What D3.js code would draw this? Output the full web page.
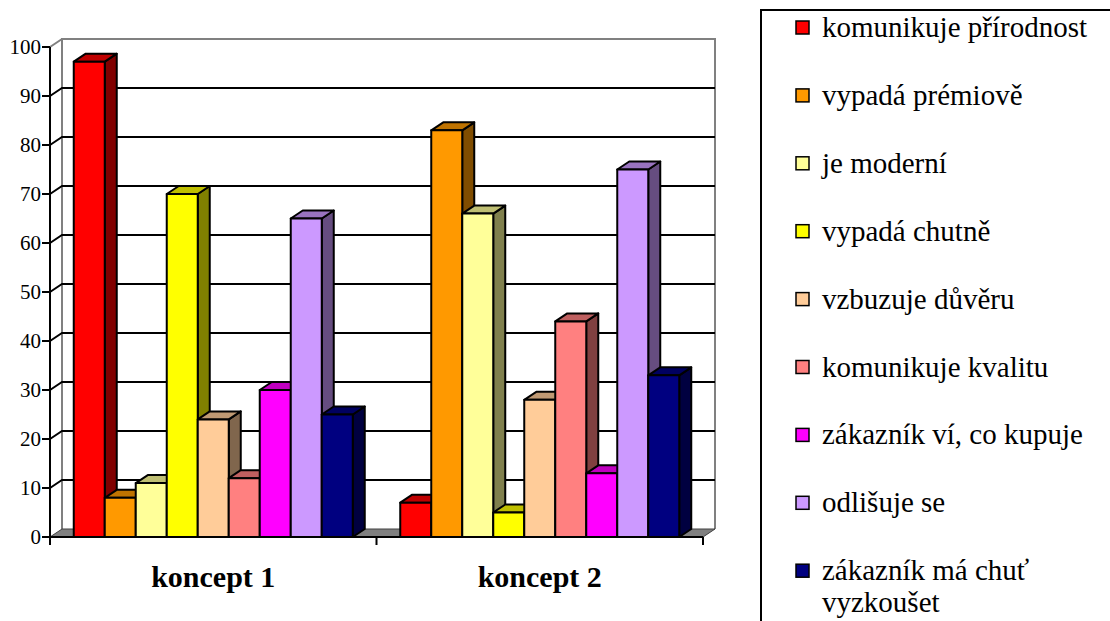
<!DOCTYPE html>
<html>
<head>
<meta charset="utf-8">
<script src="https://cdn.jsdelivr.net/npm/d3@7"></script>
<style>
  html, body { margin: 0; padding: 0; background: #fff; }
  svg { display: block; }
</style>
</head>
<body>
<svg id="chart" width="1110" height="621"></svg>
<script>
// Categories and series
const categories = ["koncept 1", "koncept 2"];
const seriesNames = [
  "komunikuje přírodnost",
  "vypadá prémiově",
  "je moderní",
  "vypadá chutně",
  "vzbuzuje důvěru",
  "komunikuje kvalitu",
  "zákazník ví, co kupuje",
  "odlišuje se",
  "zákazník má chuť vyzkoušet"
];
const seriesColors = ["#FF0000", "#FF9900", "#FFFF99", "#FFFF00", "#FFCC99", "#FF8080", "#FF00FF", "#CC99FF", "#000080"];
const koncept1 = [97, 8, 11, 70, 24, 12, 30, 65, 25];
const koncept2 = [7, 83, 66, 5, 28, 44, 13, 75, 33];
const yTicks = [0, 10, 20, 30, 40, 50, 60, 70, 80, 90, 100];

const values = [koncept1, koncept2];
const FONT = "'Liberation Serif', 'Times New Roman', serif";

const svg = d3.select("#chart");

// Plot geometry (front plane) and depth offset of the 3D box
const x0 = 50, x1 = 703, yBase = 537, yTop = 47;
const DX = 12, DY = -8;

const x = d3.scaleBand().domain(categories).range([x0, x1]).paddingInner(0).paddingOuter(0);
const xs = d3.scaleBand().domain(d3.range(seriesNames.length)).range([0, x.bandwidth()])
  .paddingInner(0).paddingOuter(0.766);
const y = d3.scaleLinear().domain([0, 100]).range([yBase, yTop]);

const shade = (c, k) => { const o = d3.rgb(c); return d3.rgb(o.r * k, o.g * k, o.b * k).formatHex(); };

// Back wall
const wall = svg.append("g");
wall.append("path")
  .attr("d", `M${x0 + DX},${y(0) + DY} L${x0 + DX},${y(100) + DY} L${x1 + DX},${y(100) + DY} L${x1 + DX},${y(0) + DY}`)
  .attr("fill", "none").attr("stroke", "#808080").attr("stroke-width", 2);
// Side wall top edge
wall.append("line")
  .attr("x1", x0).attr("y1", y(100)).attr("x2", x0 + DX).attr("y2", y(100) + DY)
  .attr("stroke", "#808080").attr("stroke-width", 2);

// Gridlines on back and side wall
const grid = svg.append("g");
yTicks.filter(v => v > 0 && v < 100).forEach(v => {
  grid.append("path")
    .attr("d", `M${x0},${y(v)} L${x0 + DX},${y(v) + DY} L${x1 + DX},${y(v) + DY}`)
    .attr("fill", "none").attr("stroke", "#000").attr("stroke-width", 2);
});

// Floor
svg.append("path")
  .attr("d", `M${x0},${y(0)} L${x0 + DX},${y(0) + DY} L${x1 + DX},${y(0) + DY} L${x1},${y(0)} Z`)
  .attr("fill", "#808080").attr("stroke", "#404040").attr("stroke-width", 1);

// Bars
const bars = svg.append("g").attr("stroke", "#000").attr("stroke-width", 2).attr("stroke-linejoin", "round");
categories.forEach((cat, ci) => {
  values[ci].forEach((v, si) => {
    const bx = x(cat) + xs(si);
    const bw = xs.bandwidth();
    const top = y(v), bot = y(0);
    const c = seriesColors[si];
    const g = bars.append("g");
    // right side face
    g.append("path")
      .attr("d", `M${bx + bw},${bot} L${bx + bw},${top} L${bx + bw + DX},${top + DY} L${bx + bw + DX},${bot + DY} Z`)
      .attr("fill", shade(c, 0.5));
    // top face
    g.append("path")
      .attr("d", `M${bx},${top} L${bx + DX},${top + DY} L${bx + bw + DX},${top + DY} L${bx + bw},${top} Z`)
      .attr("fill", shade(c, 0.75));
    // front face
    g.append("rect")
      .attr("x", bx).attr("y", top).attr("width", bw).attr("height", bot - top)
      .attr("fill", c);
  });
});

// Value axis
const yAxis = svg.append("g");
yAxis.append("line").attr("x1", x0).attr("x2", x0).attr("y1", y(100)).attr("y2", y(0) + 8)
  .attr("stroke", "#000").attr("stroke-width", 2);
yTicks.forEach(v => {
  yAxis.append("line").attr("x1", x0 - 8).attr("x2", x0).attr("y1", y(v)).attr("y2", y(v))
    .attr("stroke", "#000").attr("stroke-width", 2);
  yAxis.append("text").attr("x", x0 - 9).attr("y", y(v)).attr("dy", "0.34em")
    .attr("font-family", FONT)
    .attr("text-anchor", "end").attr("font-size", 21).text(v);
});

// Category axis
const xAxis = svg.append("g");
xAxis.append("line").attr("x1", x0 - 8).attr("x2", x1).attr("y1", y(0)).attr("y2", y(0))
  .attr("stroke", "#000").attr("stroke-width", 2);
[x(categories[1]), x1].forEach(t => {
  xAxis.append("line").attr("x1", t).attr("x2", t).attr("y1", y(0)).attr("y2", y(0) + 8)
    .attr("stroke", "#000").attr("stroke-width", 2);
});
categories.forEach(cat => {
  xAxis.append("text").attr("x", x(cat) + x.bandwidth() / 2).attr("y", 587)
    .attr("font-family", FONT)
    .attr("text-anchor", "middle").attr("font-size", 30).attr("font-weight", "bold").text(cat);
});

// Legend
const legend = svg.append("g");
legend.append("rect").attr("x", 761).attr("y", 10).attr("width", 400).attr("height", 700)
  .attr("fill", "none").attr("stroke", "#000").attr("stroke-width", 2);
seriesNames.forEach((name, i) => {
  const cy = 27 + 67.9 * i;
  legend.append("rect").attr("x", 796).attr("y", cy - 6).attr("width", 13).attr("height", 13)
    .attr("fill", seriesColors[i]).attr("stroke", "#000").attr("stroke-width", 1.5);
  const t = legend.append("text").attr("x", 822).attr("y", cy + 10)
    .attr("font-family", FONT).attr("font-size", 29);
  if (i === seriesNames.length - 1) {
    t.append("tspan").attr("x", 822).text("zákazník má chuť");
    t.append("tspan").attr("x", 822).attr("dy", 32).text("vyzkoušet");
  } else {
    t.text(name);
  }
});
</script>
</body>
</html>
